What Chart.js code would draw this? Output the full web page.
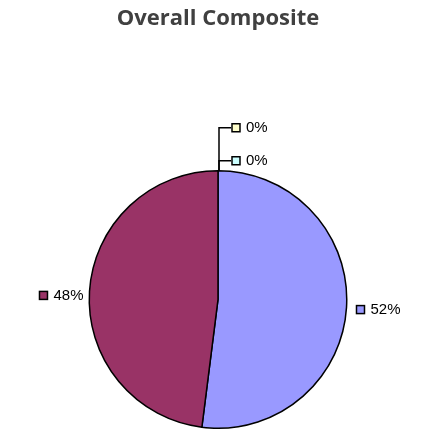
<!DOCTYPE html>
<html>
<head>
<meta charset="utf-8">
<script src="https://cdn.jsdelivr.net/npm/chart.js@4/dist/chart.umd.min.js"></script>
<style>
  html, body { margin: 0; padding: 0; background: #fff; }
  #wrap { width: 424px; height: 438px; }
</style>
</head>
<body>
<div id="wrap"><canvas id="pieChart" width="424" height="438"></canvas></div>
<script>
// data
const categories = ['A', 'B', 'C', 'D'];
const percents = [52, 48, 0, 0];
const sliceColors = ['#9999FF', '#993366', '#FFFFCC', '#CCFFFF'];

// Labels beside each slice, with leader lines for the empty slices
const pieLabels = {
    id: 'pieLabels',
    afterDatasetsDraw(chart) {
        const ctx = chart.ctx;
        const arcs = chart.getDatasetMeta(0).data;
        ctx.save();
        ctx.font = '15px "Liberation Sans", Arial, sans-serif';
        ctx.textBaseline = 'middle';
        let zeroCount = 0;
        // walk backwards so the last empty slice sits nearest the pie
        for (let i = arcs.length - 1; i >= 0; i--) {
            const arc = arcs[i];
            const { x, y, startAngle, endAngle, outerRadius } = arc.getProps(['x', 'y', 'startAngle', 'endAngle', 'outerRadius'], true);
            const text = percents[i] + '%';
            const mid = (startAngle + endAngle) / 2;
            const ex = x + outerRadius * Math.cos(mid);
            const ey = y + outerRadius * Math.sin(mid);
            let bx, by;
            if (percents[i] === 0) {
                const ly = ey - 10 - zeroCount * 33;
                ctx.strokeStyle = '#000';
                ctx.lineWidth = 1.5;
                ctx.beginPath();
                ctx.moveTo(ex + 1, ey);
                ctx.lineTo(ex + 1, ly);
                ctx.lineTo(ex + 13, ly);
                ctx.stroke();
                bx = ex + 14;
                by = ly;
                zeroCount++;
            } else if (Math.cos(mid) >= 0) {
                bx = ex + 10;
                by = ey + 2;
            } else {
                const w = ctx.measureText(text).width;
                bx = ex - 6 - w - 14;
                by = ey + 4;
            }
            ctx.fillStyle = sliceColors[i];
            ctx.fillRect(bx, by - 4, 8, 8);
            ctx.strokeStyle = '#000';
            ctx.lineWidth = 1.5;
            ctx.strokeRect(bx, by - 4, 8, 8);
            ctx.fillStyle = '#000';
            ctx.textAlign = 'left';
            ctx.fillText(text, bx + 14, by);
        }
        ctx.restore();
    }
};

const pieCtx = document.getElementById('pieChart').getContext('2d');
new Chart(pieCtx, {
    type: 'pie',
    data: {
        labels: categories,
        datasets: [{
            data: percents,
            backgroundColor: sliceColors,
            borderColor: '#000',
            borderWidth: 1.5
        }]
    },
    options: {
        responsive: false,
        animation: false,
        layout: { padding: { top: 0, bottom: 9, left: 12, right: 0 } },
        plugins: {
            legend: { display: false },
            tooltip: { enabled: false },
            title: {
                display: true,
                text: 'Overall Composite',
                color: '#404040',
                font: { family: '"Open Sans", sans-serif', size: 22, weight: 'bold' },
                padding: { top: 6, bottom: 137.6 }
            }
        }
    },
    plugins: [pieLabels]
});
</script>
</body>
</html>
